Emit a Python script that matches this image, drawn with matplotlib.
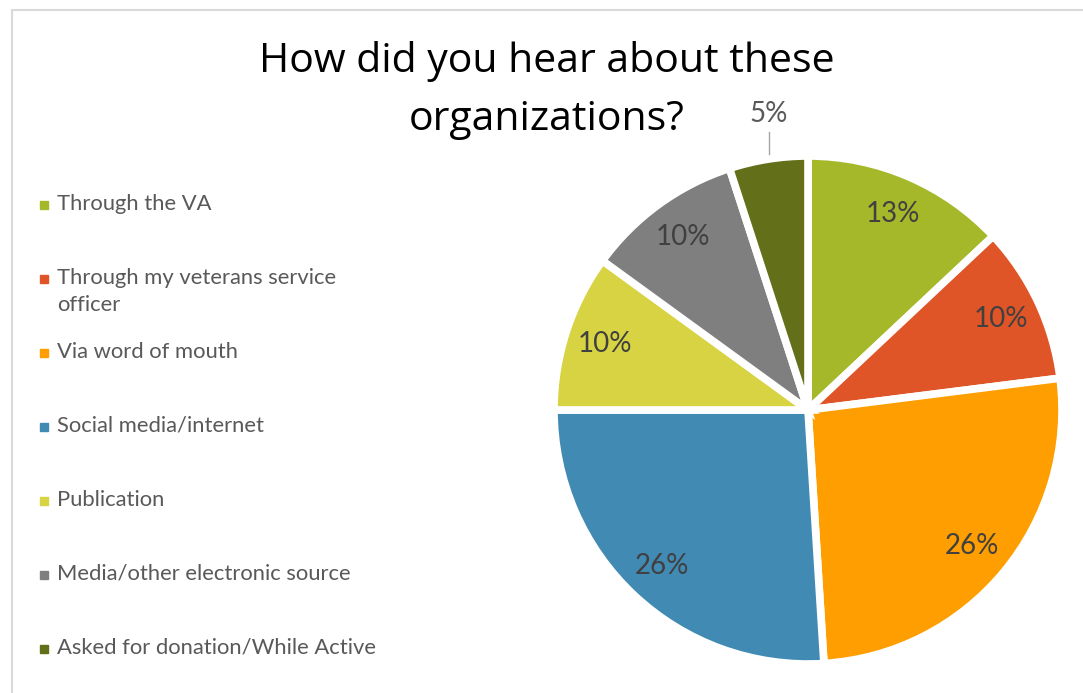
import numpy as np
import matplotlib.pyplot as plt
from matplotlib import font_manager
from matplotlib.patches import Rectangle

# survey answers, clockwise from 12 o'clock
sources = ['Through the VA',
           'Through my veterans service\nofficer',
           'Via word of mouth',
           'Social media/internet',
           'Publication',
           'Media/other electronic source',
           'Asked for donation/While Active']
shares = [13, 10, 26, 26, 10, 10, 5]
colors = ['#A5B82A', '#E05528', '#FF9E01', '#418AB3', '#D8D343', '#7F7F7F', '#646F19']
title_lines = ['How did you hear about these', 'organizations?']


def pick_font(names):
    installed = {f.name for f in font_manager.fontManager.ttflist}
    for n in names:
        if n in installed:
            return n
    return 'DejaVu Sans'


title_font = pick_font(['Open Sans', 'DejaVu Sans'])
body_font = pick_font(['Lato', 'Open Sans', 'DejaVu Sans'])

W, H = 1083, 693
fig = plt.figure(figsize=(W / 100, H / 100), dpi=100)
ax = fig.add_axes([0, 0, 1, 1])

cx, cy, r = 808, H - 410, 254
wedges, texts, autotexts = ax.pie(
    shares, colors=colors, startangle=90, counterclock=False,
    center=(cx, cy), radius=r, explode=[0.016] * len(shares),
    autopct='%d%%', pctdistance=0.84,
    wedgeprops=dict(edgecolor='white', linewidth=5.5),
    textprops=dict(fontsize=20, color='#404040', family=body_font),
    frame=True)
ax.set_xlim(0, W)
ax.set_ylim(0, H)
ax.set_aspect('equal')
ax.axis('off')

# chart frame
ax.add_patch(Rectangle((12, -20), W + 20, H - 10 + 20, fill=False,
                       edgecolor='#D9D9D9', linewidth=1.5))

# the small slice gets its label outside with a leader line
w = wedges[-1]
mid = np.deg2rad((w.theta1 + w.theta2) / 2)
lx, ly = cx + 300 * np.cos(mid), cy + 300 * np.sin(mid)
autotexts[-1].set_position((lx + 8, ly))
autotexts[-1].set_color('#595959')
ax.plot([lx + 8, lx + 8], [cy + r + 2, ly - 18], color='#A6A6A6', linewidth=1)

for k, line in enumerate(title_lines):
    ax.text(547, H - 62 - k * 58, line, ha='center', va='center', fontsize=29.5,
            family=title_font, color='black')

# legend down the left side
y0, step = H - 205, 74
for i, (lab, col) in enumerate(zip(sources, colors)):
    y = y0 - i * step
    ax.plot(44, y, marker='s', markersize=6, color=col, linestyle='none')
    ax.text(57, y + 11, lab, ha='left', va='top', fontsize=15.8,
            family=body_font, color='#595959', linespacing=1.45)

fig.savefig('out.png', dpi=100)
